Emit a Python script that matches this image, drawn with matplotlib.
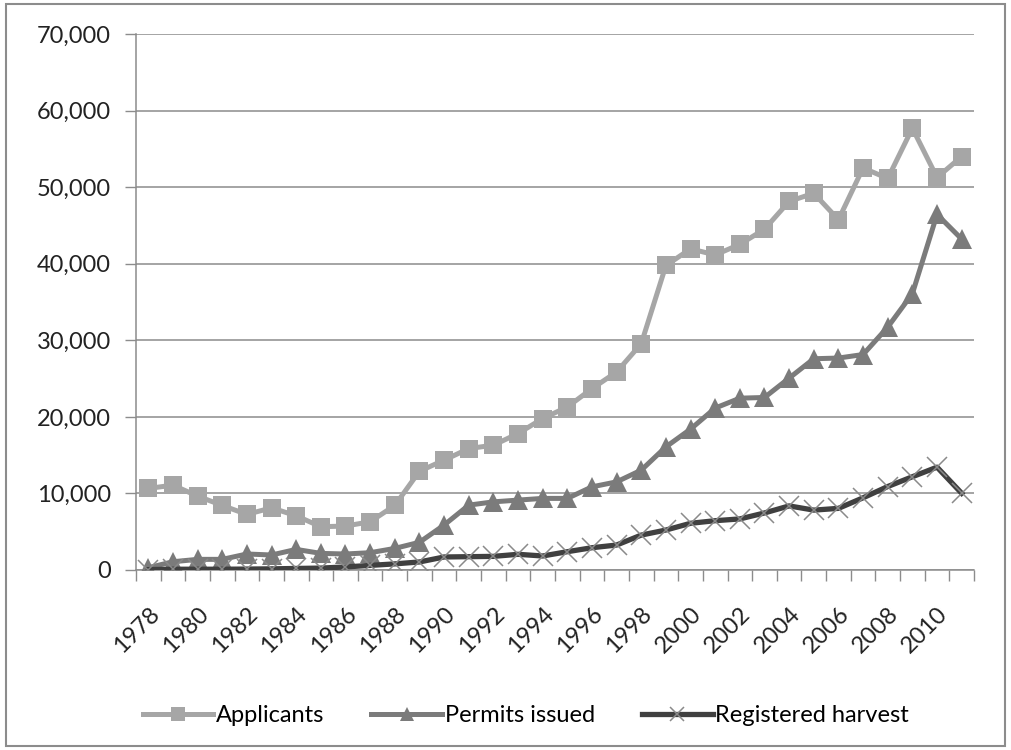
import matplotlib
matplotlib.use("Agg")
import matplotlib.pyplot as plt
from matplotlib.patches import Rectangle
from matplotlib.ticker import FuncFormatter, FixedLocator

plt.rcParams['font.family'] = ['Lato', 'DejaVu Sans']

years = list(range(1978, 2012))

applicants = [10650, 11080, 9650, 8430, 7260, 8120, 7080, 5650, 5740, 6300,
              8430, 12900, 14340, 15860, 16300, 17820, 19780, 21290, 23690, 25860,
              29560, 39770, 41940, 41150, 42530, 44510, 48140, 49200, 45750, 52510,
              51130, 57700, 51260, 54000]

permits = [300, 1080, 1390, 1390, 2090, 1960, 2690, 2170, 2090, 2260,
           2820, 3620, 5870, 8470, 8900, 9130, 9350, 9350, 10860, 11510,
           13040, 16080, 18400, 21150, 22440, 22530, 25060, 27590, 27680, 28140,
           31720, 36090, 46440, 43220]

harvest = [50, 100, 100, 100, 120, 150, 200, 250, 400, 600,
           800, 1050, 1700, 1740, 1780, 2050, 1830, 2390, 2910, 3260,
           4560, 5220, 6100, 6440, 6670, 7450, 8370, 7820, 8050, 9430,
           10900, 12180, 13430, 10020]

fig = plt.figure(figsize=(10.11, 7.5), dpi=100)
ax = fig.add_axes([136 / 1011, 1 - 570 / 750, (974 - 136) / 1011, (570 - 34) / 750])

# chart area border
fig.patches.append(Rectangle((6 / 1011, 4 / 750), 999 / 1011, 742 / 750,
                             transform=fig.transFigure, fill=False,
                             edgecolor="#8c8c8c", linewidth=1.5))

ax.plot(years, applicants, color="#a6a6a6", linewidth=3.6, marker="s",
        markersize=13.5, markeredgewidth=0, label="Applicants", zorder=3)
ax.plot(years, permits, color="#7b7b7b", linewidth=3.6, marker="^",
        markersize=14, markeredgewidth=0, label="Permits issued", zorder=4)
ax.plot(years, harvest, color="#404040", linewidth=3.8, marker="x",
        markersize=14, markeredgewidth=1.1, markeredgecolor="#8a8a8a",
        label="Registered harvest", zorder=5)

ax.set_xlim(1977.5, 2011.5)
ax.set_ylim(0, 70000)

ax.yaxis.set_major_locator(FixedLocator(range(0, 70001, 10000)))
ax.yaxis.set_major_formatter(FuncFormatter(lambda v, p: "{:,.0f}".format(v)))
ax.grid(axis="y", color="#8c8c8c", linewidth=1.1)
ax.set_axisbelow(True)

# tick marks sit between categories, labels on every second year
ax.xaxis.set_major_locator(FixedLocator([y - 0.5 for y in range(1978, 2013)]))
ax.xaxis.set_major_formatter(FuncFormatter(lambda v, p: ""))
ax.xaxis.set_minor_locator(FixedLocator(range(1978, 2011, 2)))
ax.set_xticklabels([str(y) for y in range(1978, 2011, 2)], minor=True,
                   rotation=45, ha="right", rotation_mode="anchor")
ax.tick_params(axis="x", which="major", length=8, color="#8c8c8c", width=1)
ax.tick_params(axis="x", which="minor", length=0, pad=24, labelsize=17,
               labelcolor="#222222")
ax.tick_params(axis="y", length=8, color="#8c8c8c", width=1, pad=10,
               labelsize=17, labelcolor="#222222")

for s in ["top", "right"]:
    ax.spines[s].set_visible(False)
for s in ["left", "bottom"]:
    ax.spines[s].set_color("#8c8c8c")
    ax.spines[s].set_linewidth(1.1)

fig.legend(loc="center", bbox_to_anchor=(0.52, 1 - 716 / 750), ncol=3,
           frameon=False, fontsize=17, handlelength=3.0, handletextpad=0.1,
           columnspacing=2.0, markerscale=0.7)

fig.savefig("out.png", dpi=100)
